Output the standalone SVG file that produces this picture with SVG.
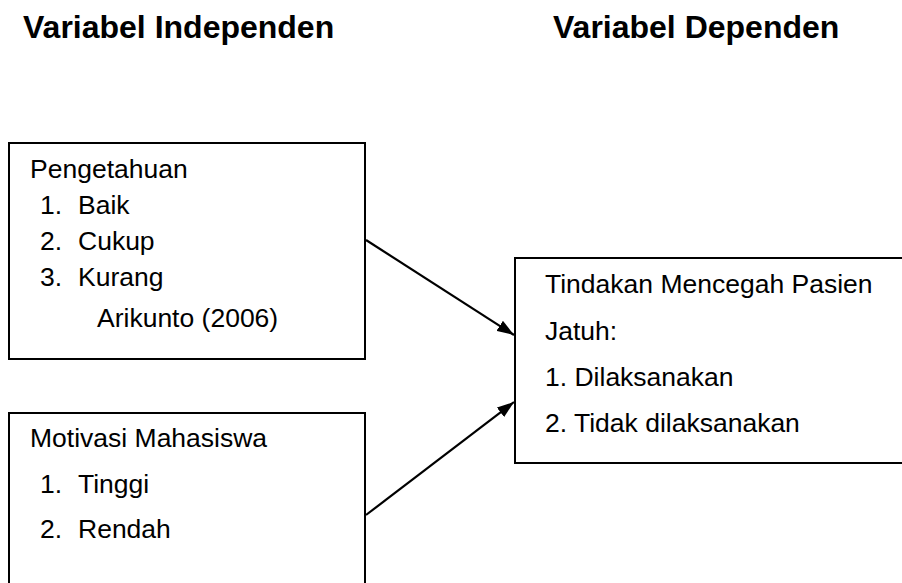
<svg xmlns="http://www.w3.org/2000/svg" width="902" height="583" viewBox="0 0 902 583">
<style>
.t{font-family:"Liberation Sans",Arial,sans-serif;font-size:26.5px;fill:#000}
.h{font-family:"Liberation Sans",Arial,sans-serif;font-size:32px;font-weight:bold;fill:#000}
.b{fill:#fff;stroke:#000;stroke-width:2}
.c{stroke:#000;stroke-width:2.2;fill:none}
</style>
<defs>
<marker id="ah" viewBox="0 0 17 12" refX="17" refY="6" markerWidth="17" markerHeight="12" markerUnits="userSpaceOnUse" orient="auto">
<path d="M0,0 L17,6 L0,12 z" fill="#000"/>
</marker>
</defs>
<rect width="902" height="583" fill="#fff"/>
<text class="h" x="23" y="38">Variabel Independen</text>
<text class="h" x="553" y="38">Variabel Dependen</text>
<g id="pengetahuan">
<rect class="b" x="9" y="143" width="356" height="216"/>
<text class="t" x="30" y="178">Pengetahuan</text>
<text class="t" x="40" y="214">1.</text><text class="t" x="78" y="214">Baik</text>
<text class="t" x="40" y="250">2.</text><text class="t" x="78" y="250">Cukup</text>
<text class="t" x="40" y="286">3.</text><text class="t" x="78" y="286">Kurang</text>
<text class="t" x="97" y="327">Arikunto (2006)</text>
</g>
<g id="motivasi">
<rect class="b" x="9" y="413" width="356" height="200"/>
<text class="t" x="30" y="447">Motivasi Mahasiswa</text>
<text class="t" x="40" y="493">1.</text><text class="t" x="78" y="493">Tinggi</text>
<text class="t" x="40" y="538">2.</text><text class="t" x="78" y="538">Rendah</text>
</g>
<g id="tindakan">
<rect class="b" x="515" y="258" width="420" height="205"/>
<text class="t" x="545" y="293">Tindakan Mencegah Pasien</text>
<text class="t" x="545" y="340">Jatuh:</text>
<text class="t" x="545" y="386">1. Dilaksanakan</text>
<text class="t" x="545" y="432">2. Tidak dilaksanakan</text>
</g>
<g id="connectors">
<line class="c" x1="366" y1="240" x2="514" y2="335" marker-end="url(#ah)"/>
<line class="c" x1="366" y1="515" x2="514" y2="402" marker-end="url(#ah)"/>
</g>
</svg>
